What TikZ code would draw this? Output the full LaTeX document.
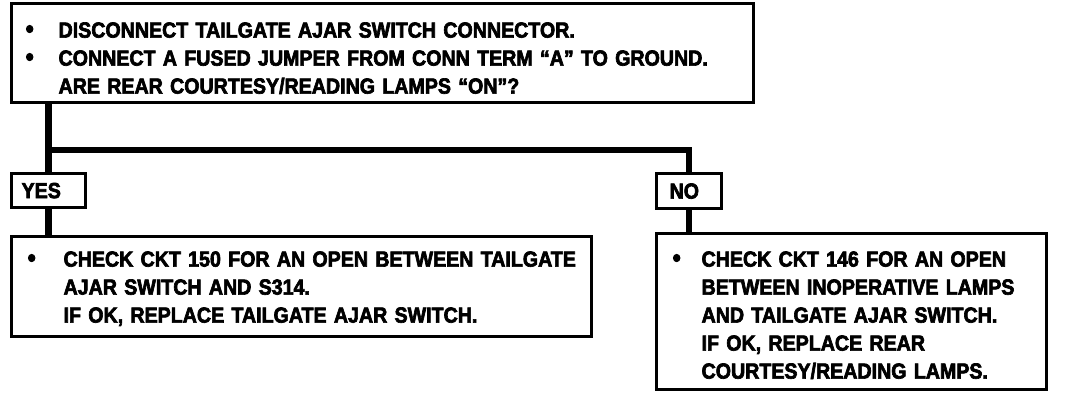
\documentclass[tikz,border=0pt]{standalone}
\usepackage{fontspec}
\setmainfont{Liberation Sans}[FakeStretch=0.9,BoldFeatures={FakeBold=3}]
\usetikzlibrary{positioning}
\newcommand{\pkt}[1][16pt]{\makebox[#1][l]{\fontsize{13}{14}\selectfont\textbullet}}
\newcommand{\ind}[1][16pt]{\hspace*{#1}}
\tikzset{
  % rutor
  bx/.style={draw,line width=1.6pt,anchor=north west,align=left,inner ysep=0pt,
             font=\fontsize{10.9}{14}\selectfont\bfseries},
  tag/.style={draw,line width=1.6pt,anchor=north west,align=left,inner ysep=0pt,
              font=\fontsize{10.9}{14}\selectfont\bfseries},
  % linjer
  cn/.style={draw,line width=3.2pt},
}
\begin{document}
\begin{tikzpicture}[x=0.5pt,y=-0.5pt]
  \useasboundingbox (0,0) rectangle (1072,400);
  \node[bx,inner xsep=7pt,text width=357pt,text height=17pt,text depth=32.5pt] (q) at (10,2)
    {\pkt[16.5pt]DISCONNECT TAILGATE AJAR SWITCH CONNECTOR.\\
     \pkt[16.5pt]\mbox{CONNECT A FUSED JUMPER FROM CONN TERM ``A'' TO GROUND.}\\
     \ind[16.5pt]ARE REAR COURTESY/READING LAMPS ``ON''?};
  \node[tag,inner xsep=5pt,text width=27pt,minimum height=17pt] (yes) at (10,172) {YES};
  \node[tag,inner xsep=6.5pt,text width=19.5pt,minimum height=17.5pt] (no) at (655,172) {NO};
  \node[bx,inner xsep=8pt,text width=274pt,text height=15pt,text depth=35pt] (ja) at (10,235)
    {\pkt[18pt]\mbox{CHECK CKT 150 FOR AN OPEN BETWEEN TAILGATE}\\
     \ind[18pt]AJAR SWITCH AND S314.\\
     \ind[18pt]IF OK, REPLACE TAILGATE AJAR SWITCH.};
  \node[bx,inner xsep=8pt,text width=179pt,text height=16.5pt,text depth=61.5pt] (nej) at (655,232)
    {\pkt[14.5pt]CHECK CKT 146 FOR AN OPEN\\
     \ind[14.5pt]BETWEEN INOPERATIVE LAMPS\\
     \ind[14.5pt]AND TAILGATE AJAR SWITCH.\\
     \ind[14.5pt]IF OK, REPLACE REAR\\
     \ind[14.5pt]COURTESY/READING LAMPS.};
  \coordinate (split) at (47,150);
  \draw[cn] (q.south -| yes.north) -- (yes.north);
  \draw[cn] (yes.south) -- (ja.north -| yes.south);
  \draw[cn] (split) -| (no.north);
  \draw[cn] (no.south) -- (nej.north -| no.south);
\end{tikzpicture}
\end{document}
